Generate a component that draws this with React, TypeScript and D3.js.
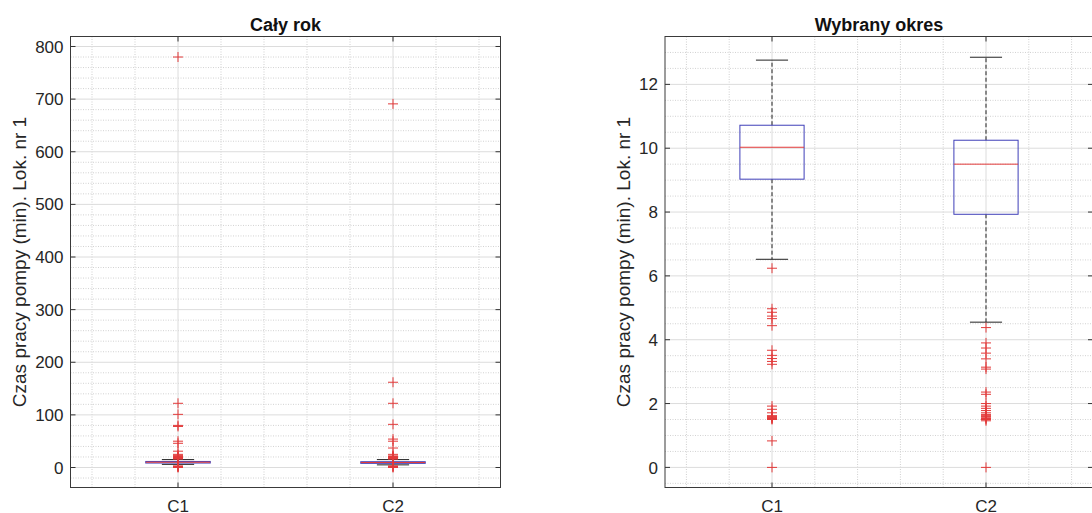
import React from "react";
import * as d3 from "d3";

const categories = ["C1", "C2"];

// Panel 1: "Cały rok"
const yearTitle = "Cały rok";
const yearTicks = [0, 100, 200, 300, 400, 500, 600, 700, 800];
const yearQ1 = [8.5, 7.9];
const yearMedian = [10, 9.5];
const yearQ3 = [11.5, 11];
const yearWhiskerLow = [6, 5];
const yearWhiskerHigh = [15, 15];
const yearOutliersC1 = [780, 122, 101, 80, 78, 50, 46, 31, 25, 23, 21, 20, 19, 18, 17, 16, 3, 2, 1.5, 1, 0];
const yearOutliersC2 = [691, 162, 122, 82, 54, 50, 37, 25, 22, 21, 20, 19, 18, 17, 16, 3, 2, 1, 0];

// Panel 2: "Wybrany okres"
const periodTitle = "Wybrany okres";
const periodTicks = [0, 2, 4, 6, 8, 10, 12];
const periodQ1 = [9.03, 7.93];
const periodMedian = [10.03, 9.5];
const periodQ3 = [10.72, 10.25];
const periodWhiskerLow = [6.52, 4.55];
const periodWhiskerHigh = [12.76, 12.85];
const periodOutliersC1 = [6.24, 4.97, 4.86, 4.74, 4.66, 4.44, 3.67, 3.51, 3.41, 3.32, 3.23, 1.92, 1.82, 1.71, 1.62, 1.6, 1.58, 1.57, 1.55, 1.53, 1.52, 1.5, 0.83, 0];
const periodOutliersC2 = [4.38, 3.9, 3.74, 3.58, 3.4, 3.14, 3.08, 2.36, 2.29, 2.0, 1.92, 1.85, 1.78, 1.71, 1.66, 1.62, 1.6, 1.58, 1.55, 1.53, 1.5, 1.46, 0];

const yLabel = "Czas pracy pompy (min). Lok. nr 1";
const FONT = "'Liberation Sans', Arial, Helvetica, sans-serif";

type PanelProps = {
  left: number;
  right: number;
  top: number;
  bottom: number;
  yDomain: [number, number];
  ticks: number[];
  minorStep: number;
  title: string;
  q1: number[];
  median: number[];
  q3: number[];
  wLow: number[];
  wHigh: number[];
  outliers: number[][];
  labelX: number;
};

function Panel(p: PanelProps) {
  const x = d3.scaleLinear().domain([0.5, 2.5]).range([p.left, p.right]);
  const y = d3.scaleLinear().domain(p.yDomain).range([p.bottom, p.top]);
  const xMinor = d3.range(0.6, 2.45, 0.2).filter((v) => Math.abs(v - Math.round(v)) > 0.05);
  const yMinor = d3
    .range(Math.ceil(p.yDomain[0] / p.minorStep) * p.minorStep, p.yDomain[1], p.minorStep)
    .filter((v) => !p.ticks.some((t) => Math.abs(t - v) < 1e-6));
  const halfBox = 0.15;
  const halfCap = 0.075;
  const tickLen = 5;
  const boxColor = "#3f3fb8";
  const redColor = "#e23a3a";
  const clipId = "clip" + Math.round(p.left);
  return (
    <g>
      <defs>
        <clipPath id={clipId}>
          <rect x={p.left} y={p.top} width={p.right - p.left} height={p.bottom - p.top} />
        </clipPath>
      </defs>
      <rect x={p.left} y={p.top} width={p.right - p.left} height={p.bottom - p.top} fill="#fff" />
      {xMinor.map((v, i) => (
        <line key={"xm" + i} x1={x(v)} x2={x(v)} y1={p.top} y2={p.bottom} stroke="#cfcfcf" strokeWidth={1} strokeDasharray="1,1.5" />
      ))}
      {yMinor.map((v, i) => (
        <line key={"ym" + i} x1={p.left} x2={p.right} y1={y(v)} y2={y(v)} stroke="#d2d2d2" strokeWidth={1} strokeDasharray="1,1.5" />
      ))}
      {[1, 2].map((v) => (
        <line key={"xg" + v} x1={x(v)} x2={x(v)} y1={p.top} y2={p.bottom} stroke="#dcdcdc" strokeWidth={1} />
      ))}
      {p.ticks.map((v) => (
        <line key={"yg" + v} x1={p.left} x2={p.right} y1={y(v)} y2={y(v)} stroke="#dcdcdc" strokeWidth={1} />
      ))}
      <g clipPath={`url(#${clipId})`}>
        {categories.map((c, i) => {
          const cx = x(i + 1);
          const bw = x(1 + halfBox) - x(1);
          const cw = x(1 + halfCap) - x(1);
          return (
            <g key={c}>
              <line x1={cx} x2={cx} y1={y(p.q3[i])} y2={y(p.wHigh[i])} stroke="#222" strokeWidth={1} strokeDasharray="4,2.5" />
              <line x1={cx} x2={cx} y1={y(p.q1[i])} y2={y(p.wLow[i])} stroke="#222" strokeWidth={1} strokeDasharray="4,2.5" />
              <line x1={cx - cw} x2={cx + cw} y1={y(p.wHigh[i])} y2={y(p.wHigh[i])} stroke="#222" strokeWidth={1} />
              <line x1={cx - cw} x2={cx + cw} y1={y(p.wLow[i])} y2={y(p.wLow[i])} stroke="#222" strokeWidth={1} />
              <rect x={cx - bw} y={y(p.q3[i])} width={2 * bw} height={y(p.q1[i]) - y(p.q3[i])} fill="none" stroke={boxColor} strokeWidth={1} />
              <line x1={cx - bw} x2={cx + bw} y1={y(p.median[i])} y2={y(p.median[i])} stroke={redColor} strokeWidth={1} />
              {p.outliers[i].map((v, j) => (
                <path key={j} d={`M${cx - 5},${y(v)}H${cx + 5}M${cx},${y(v) - 5}V${y(v) + 5}`} stroke={redColor} strokeWidth={1} fill="none" />
              ))}
            </g>
          );
        })}
      </g>
      {p.ticks.map((v) => (
        <g key={"t" + v}>
          <line x1={p.left} x2={p.left + tickLen} y1={y(v)} y2={y(v)} stroke="#333" />
          <line x1={p.right} x2={p.right - tickLen} y1={y(v)} y2={y(v)} stroke="#333" />
          <text x={p.left - 7} y={y(v)} dy="0.36em" textAnchor="end" fontSize={17} fill="#262626" fontFamily={FONT}>
            {v}
          </text>
        </g>
      ))}
      {categories.map((c, i) => (
        <g key={"xt" + c}>
          <line x1={x(i + 1)} x2={x(i + 1)} y1={p.bottom} y2={p.bottom - tickLen} stroke="#333" />
          <line x1={x(i + 1)} x2={x(i + 1)} y1={p.top} y2={p.top + tickLen} stroke="#333" />
          <text x={x(i + 1)} y={511.5} textAnchor="middle" fontSize={17} fill="#262626" fontFamily={FONT}>
            {c}
          </text>
        </g>
      ))}
      <rect x={p.left} y={p.top} width={p.right - p.left} height={p.bottom - p.top} fill="none" stroke="#3a3a3a" strokeWidth={1} />
      <text x={(p.left + p.right) / 2} y={30.5} textAnchor="middle" fontSize={18} fontWeight="bold" fill="#111" fontFamily={FONT}>
        {p.title}
      </text>
      <text
        transform={`translate(${p.labelX},${(p.top + p.bottom) / 2}) rotate(-90)`}
        textAnchor="middle"
        fontSize={19}
        fill="#262626"
        fontFamily={FONT}
      >
        {yLabel}
      </text>
    </g>
  );
}

export default function App() {
  return (
    <svg width={1092} height={513} style={{ position: "absolute", left: 0, top: 0, background: "#fff" }}>
      <rect width={1092} height={513} fill="#fff" />
      <Panel
        left={70.5}
        right={500.5}
        top={36.5}
        bottom={487.5}
        yDomain={[-38, 819]}
        ticks={yearTicks}
        minorStep={20}
        title={yearTitle}
        q1={yearQ1}
        median={yearMedian}
        q3={yearQ3}
        wLow={yearWhiskerLow}
        wHigh={yearWhiskerHigh}
        outliers={[yearOutliersC1, yearOutliersC2]}
        labelX={26}
      />
      <Panel
        left={665}
        right={1093}
        top={36.5}
        bottom={487.5}
        yDomain={[-0.63, 13.5]}
        ticks={periodTicks}
        minorStep={0.5}
        title={periodTitle}
        q1={periodQ1}
        median={periodMedian}
        q3={periodQ3}
        wLow={periodWhiskerLow}
        wHigh={periodWhiskerHigh}
        outliers={[periodOutliersC1, periodOutliersC2]}
        labelX={630}
      />
    </svg>
  );
}
